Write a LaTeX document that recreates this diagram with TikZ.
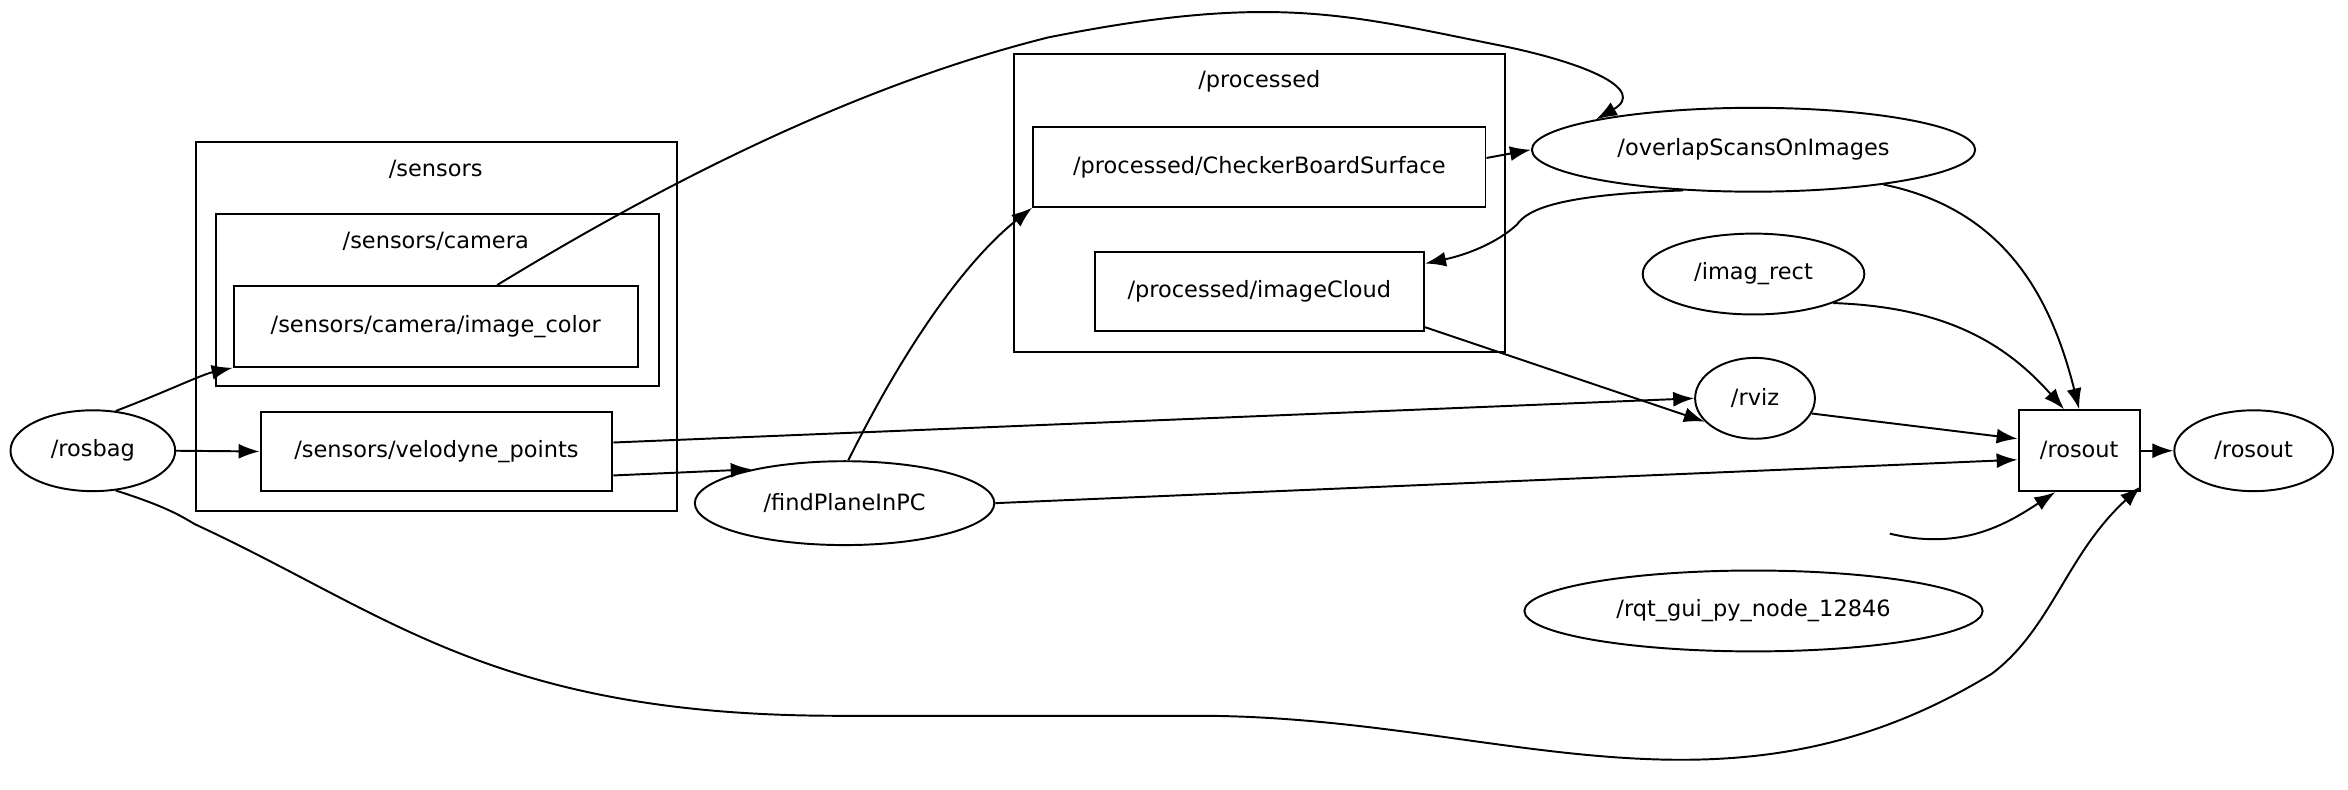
\documentclass[tikz,border=0pt]{standalone}
\usepackage{fontspec}
\setmainfont{DejaVu Sans}
\usetikzlibrary{arrows.meta,shapes.geometric}
\begin{document}
\begin{tikzpicture}[x=1pt,y=-1pt,line width=1.3pt,
  every node/.style={font=\fontsize{15}{18}\selectfont},
  ell/.style={draw,ellipse,inner sep=0pt},
  bx/.style={draw,rectangle,inner sep=0pt},
  cl/.style={draw,rectangle,line width=1.2pt},
  ar/.style={-{Latex[length=14pt,width=10pt]}}]
\useasboundingbox (0,0) rectangle (1568,527);
\draw[cl] (131,95) rectangle (452,341); \node (ls) at (291,113) {/sensors};
\draw[cl] (144,143) rectangle (440,258); \node (lc) at (291,161) {/sensors/camera};
\draw[cl] (677,36) rectangle (1005,235); \node (lp) at (841,54) {/processed};
\node[ell,minimum width=110,minimum height=54] (rosbag) at (62,301) {/rosbag};
\node[bx,minimum width=270,minimum height=54] (img) at (291,218) {/sensors/camera/image\_color};
\node[bx,minimum width=235,minimum height=53] (velo) at (291.5,301.5) {/sensors/velodyne\_points};
\node[ell,minimum width=200,minimum height=56] (find) at (564,336) {/findPlaneInPC};
\node[bx,minimum width=302,minimum height=53] (cbs) at (841,111.5) {/processed/CheckerBoardSurface};
\node[bx,minimum width=220,minimum height=53] (ic) at (841,194.5) {/processed/imageCloud};
\node[ell,minimum width=296,minimum height=56] (ov) at (1171,100) {/overlapScansOnImages};
\node[ell,minimum width=148,minimum height=54] (ir) at (1171,183) {/imag\_rect};
\node[ell,minimum width=80,minimum height=54] (rviz) at (1172,266) {/rviz};
\node[bx,minimum width=81,minimum height=54] (rob) at (1388.5,301) {/rosout};
\node[ell,minimum width=106,minimum height=54] (roe) at (1505,301) {/rosout};
\node[ell,minimum width=306,minimum height=54] (rqt) at (1171,408) {/rqt\_gui\_py\_node\_12846};
\draw[ar] (rosbag.60) .. controls (110,262) and (135,250) .. (img.south west);
\draw[ar] (rosbag.east) -- (velo.west);
\draw[ar] (rosbag.-60) .. controls (110,338) and (120,344) .. (130,350) .. controls (260,410) and (330,478) .. (560,478) -- (800,478) .. controls (1000,478) and (1150,560) .. (1330,450) .. controls (1370,420) and (1380,370) .. (rob.-30);
\draw[ar] (img.north) ++(41,0) .. controls (480,100) and (600,50) .. (700,25) .. controls (850,-5) and (900,10) .. (1000,30) .. controls (1060,42) and (1100,60) .. (ov.north west);
\draw[ar] (velo.east) ++(0,-6) -- (rviz.west);
\draw[ar] (velo.east) ++(0,16) -- (find.160);
\draw[ar] (find.85) .. controls (610,220) and (650,170) .. (cbs.south west);
\draw[ar] (find.east) -- (rob.west |- 0,307);
\draw[ar] (cbs.east) ++(0,-6) -- (ov.west);
\draw[ar] (ov.-150) .. controls (1040,130) and (1020,140) .. (1013,150) .. controls (1000,162) and (980,170) .. (ic.north east |- 0,176);
\draw[ar] (ic.east) ++(0,24) -- (rviz.-155);
\draw[ar] (ov.-15) .. controls (1340,140) and (1370,200) .. (rob.north);
\draw[ar] (ir.-20) .. controls (1300,205) and (1340,230) .. (rob.110);
\draw[ar] (rviz.-15) -- (rob.west |- 0,293);
\draw[ar] (rqt.north) ++(91,-24) .. controls (1310,368) and (1340,350) .. (rob.-120);
\draw[ar] (rob.east) -- (roe.west);
\end{tikzpicture}
\end{document}
